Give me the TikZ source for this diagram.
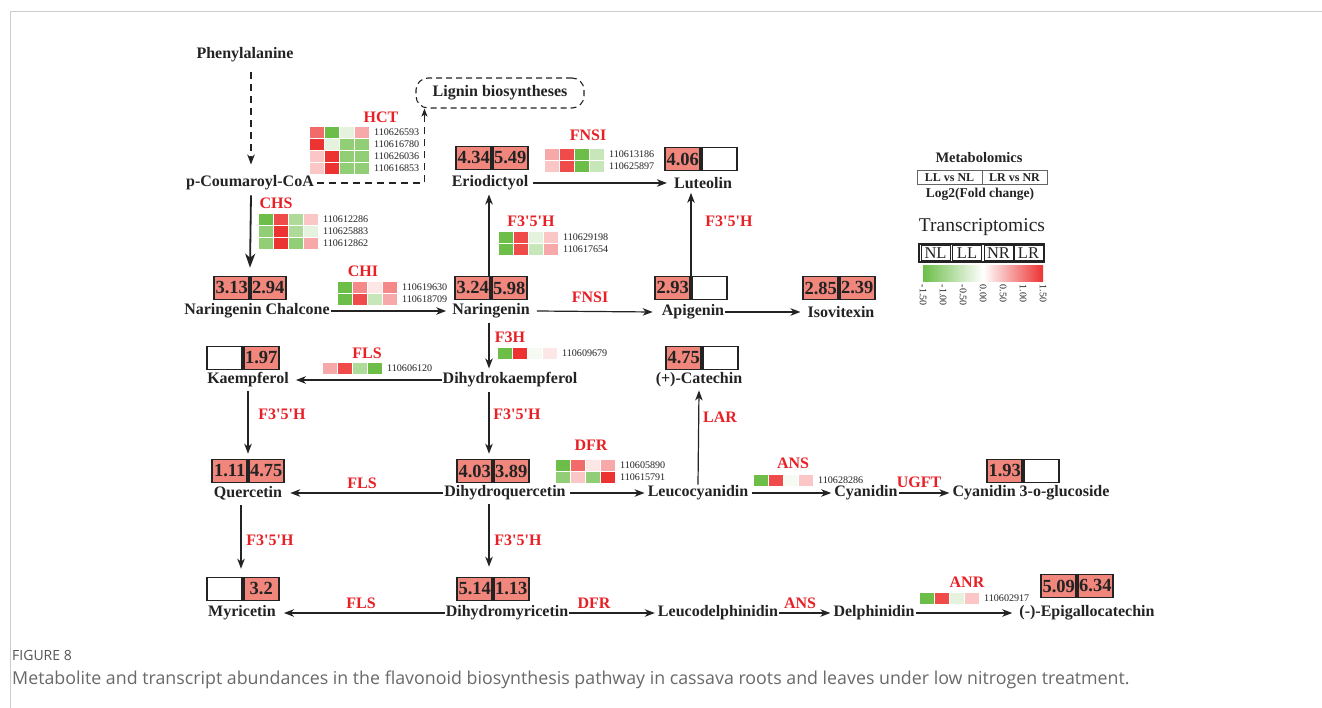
\documentclass[tikz,border=0pt]{standalone}
\usepackage{fontspec}
\setmainfont{Liberation Serif}[Ligatures=TeXOff]
\newfontfamily\capfont{Open Sans}
\usetikzlibrary{arrows.meta,calc}
\definecolor{gr}{RGB}{108,190,72}
\definecolor{rd}{RGB}{237,50,50}
\definecolor{enz}{RGB}{232,32,38}
\definecolor{salm}{RGB}{240,134,124}
\definecolor{ink}{RGB}{35,35,35}
\definecolor{capgray}{RGB}{105,105,105}
\definecolor{labgray}{RGB}{85,85,85}
\definecolor{framegray}{RGB}{205,205,205}
\colorlet{G1}{gr}
\colorlet{G2}{gr!75!white}
\colorlet{G3}{gr!55!white}
\colorlet{G4}{gr!38!white}
\colorlet{G5}{gr!18!white}
\colorlet{G6}{gr!7!white}
\colorlet{R1}{rd}
\colorlet{R2}{rd!88!white}
\colorlet{R3}{rd!72!white}
\colorlet{R4}{rd!58!white}
\colorlet{R5}{rd!42!white}
\colorlet{R6}{rd!28!white}
\colorlet{R7}{rd!12!white}
\tikzset{
  met/.style={font=\bfseries\fontsize{16}{18}\selectfont, text=ink, inner sep=1pt},
  enzl/.style={font=\bfseries\fontsize{16}{18}\selectfont, text=enz, inner sep=0pt},
  arr/.style={draw=ink, line width=1.2pt, -{Stealth[length=10pt,width=7.5pt,inset=3pt]}},
  arrbig/.style={draw=ink, line width=1.8pt, -{Stealth[length=14pt,width=10pt,inset=4pt]}},
  vcell/.style={draw=ink, line width=1.6pt, minimum width=35pt, minimum height=23pt, inner sep=0pt,
    font=\bfseries\fontsize{18.5}{20}\selectfont, text=ink},
  full/.style={vcell, fill=salm},
  empt/.style={vcell, fill=white},
  hcell/.style={draw=white, line width=0.5pt, minimum width=15pt, minimum height=12pt, inner sep=0pt, anchor=north west},
  gid/.style={font=\fontsize{10.1}{11}\selectfont, text=ink, anchor=west, inner sep=0pt},
  ligbox/.style={draw=ink, line width=1.1pt, dash pattern=on 6pt off 4pt, rounded corners=12pt,
    minimum width=168pt, minimum height=30pt, font=\bfseries\fontsize{16}{18}\selectfont, text=ink},
  lgcell/.style={draw=ink!70, line width=0.8pt, minimum width=65pt, minimum height=14pt, inner sep=0pt,
    font=\bfseries\fontsize{12}{13}\selectfont, text=ink},
  tcell/.style={draw=ink, line width=0.8pt, minimum width=29pt, minimum height=15pt, inner sep=0pt,
    font=\fontsize{16.5}{18}\selectfont, text=ink},
  tick/.style={font=\fontsize{10}{11}\selectfont, text=ink, inner sep=0.5pt, rotate=-90, anchor=west},
}
\newcommand\vpair[6]{%
  \node[#3, anchor=east] (#1L) at (#2) {#4};
  \node[#5, anchor=west] (#1R) at (#2) {#6};
}
\newcommand\hmap[3]{%
  \foreach \cols/\gid [count=\i from 0] in {#3} {
    \foreach \c [count=\j from 0] in \cols {
      \node[hcell, fill=\c] (#1-\i-\j) at ($(#2)+(15*\j,12*\i)$) {};
    }
    \node[gid] (#1-id\i) at ($(#2)+(65,12*\i+6)$) {\gid};
  }
}
\begin{document}
\begin{tikzpicture}[x=1pt,y=-1pt]
\useasboundingbox (0,0) rectangle (1322,708);
\fill[white] (0,0) rectangle (1322,708);
\draw[framegray, line width=1pt] (10,708) -- (10,12) -- (1322,12);

% metabolites
\node[met] (phe) at (245,55) {Phenylalanine};
\node[met] (pcoa) at (250,183) {p-Coumaroyl-CoA};
\node[ligbox] (lig) at (500,93) {Lignin biosyntheses};
\node[met] (nch) at (257,311) {Naringenin Chalcone};
\node[met] (nar) at (491,311) {Naringenin};
\node[met] (eri) at (490,183) {Eriodictyol};
\node[met] (lut) at (703,183) {Luteolin};
\node[met] (api) at (693,312) {Apigenin};
\node[met] (iso) at (841,312) {Isovitexin};
\node[met] (dhk) at (510,380) {Dihydrokaempferol};
\node[met] (kae) at (248,380) {Kaempferol};
\node[met] (cat) at (699,380) {(+)-Catechin};
\node[met] (que) at (248,493) {Quercetin};
\node[met] (dhq) at (505,493) {Dihydroquercetin};
\node[met] (leu) at (698,493) {Leucocyanidin};
\node[met] (cya) at (866,493) {Cyanidin};
\node[met] (cyg) at (1031,493) {Cyanidin 3-o-glucoside};
\node[met] (myr) at (242,613) {Myricetin};
\node[met] (dhm) at (507,613) {Dihydromyricetin};
\node[met] (leud) at (718,613) {Leucodelphinidin};
\node[met] (del) at (874,613) {Delphinidin};
\node[met] (epi) at (1087,613) {(-)-Epigallocatechin};

% value boxes
\vpair{vnc}{250,288}{full}{3.13}{full}{2.94}
\vpair{vnar}{491,288}{full}{3.24}{full}{5.98}
\vpair{veri}{492,158}{full}{4.34}{full}{5.49}
\vpair{vlut}{701,159}{full}{4.06}{empt}{}
\vpair{vapi}{691,288}{full}{2.93}{empt}{}
\vpair{viso}{839,288}{full}{2.85}{full}{2.39}
\vpair{vkae}{243,358}{empt}{}{full}{1.97}
\vpair{vcat}{702,358}{full}{4.75}{empt}{}
\vpair{vque}{248,471}{full}{1.11}{full}{4.75}
\vpair{vdhq}{493,471}{full}{4.03}{full}{3.89}
\vpair{vcyg}{1023,471}{full}{1.93}{empt}{}
\vpair{vmyr}{243,589}{empt}{}{full}{3.2}
\vpair{vdhm}{493,589}{full}{5.14}{full}{1.13}
\vpair{vepi}{1077,586}{full}{5.09}{full}{6.34}

% enzymes
\node[enzl] (eHCT) at (381,117) {HCT};
\node[enzl] (eCHS) at (276,203) {CHS};
\node[enzl] (eCHI) at (363,271) {CHI};
\node[enzl] (eFNS1) at (588,135) {FNSI};
\node[enzl] (eF1) at (531,221) {F3'5'H};
\node[enzl] (eF2) at (729,221) {F3'5'H};
\node[enzl] (eFNS2) at (590,297) {FNSI};
\node[enzl] (eF3H) at (510,337) {F3H};
\node[enzl] (eFLS1) at (367,353) {FLS};
\node[enzl] (eLAR) at (720,417) {LAR};
\node[enzl] (eF3) at (282,414) {F3'5'H};
\node[enzl] (eF4) at (517,414) {F3'5'H};
\node[enzl] (eFLS2) at (362,483) {FLS};
\node[enzl] (eDFR1) at (591,445) {DFR};
\node[enzl] (eANS1) at (793,463) {ANS};
\node[enzl] (eUGFT) at (919,482) {UGFT};
\node[enzl] (eF5) at (270,540) {F3'5'H};
\node[enzl] (eF6) at (518,540) {F3'5'H};
\node[enzl] (eFLS3) at (361,603) {FLS};
\node[enzl] (eDFR2) at (594,603) {DFR};
\node[enzl] (eANS2) at (800,603) {ANS};
\node[enzl] (eANR) at (967,582) {ANR};

% heatmaps
\hmap{hHCT}{309,126}{{R3,G1,G5,R5}/110626593,{R1,G5,G2,G2}/110616780,{R6,R1,G2,G2}/110626036,{R6,R1,G2,G2}/110616853}
\hmap{hCHS}{258,213}{{G1,R2,G3,R6}/110612286,{G2,R1,G3,G5}/110625883,{G2,R1,G2,R5}/110612862}
\hmap{hCHI}{337,281}{{G1,R4,R7,R4}/110619630,{G1,R2,G4,R5}/110618709}
\hmap{hF35H}{498,231}{{G1,R2,G5,R6}/110629198,{G1,R2,G4,R5}/110617654}
\hmap{hFNS}{544,148}{{R5,R2,G1,G4}/110613186,{R6,R2,G1,G4}/110625897}
\hmap{hF3H}{497,347}{{G1,R1,G6,R7}/110609679}
\hmap{hFLS}{322,362}{{R5,R2,G3,G1}/110606120}
\hmap{hDFR}{555,459}{{G1,R3,R7,R5}/110605890,{G2,R6,G2,R1}/110615791}
\hmap{hANS}{753,474}{{G1,R2,G6,R6}/110628286}
\hmap{hANR}{919,592}{{G1,R2,G5,R6}/110602917}

% connectors
\draw[arr, dash pattern=on 7pt off 5pt] ([xshift=6pt,yshift=-9pt]phe.south) -- ([xshift=1pt,yshift=10pt]pcoa.north);
\draw[arr, dash pattern=on 7pt off 5pt, -{Stealth[length=8pt,width=6pt,inset=2pt]}] ([xshift=2pt]pcoa.east) -| ([xshift=9pt]lig.south west);
\draw[arrbig] ([xshift=1pt,yshift=-4pt]pcoa.south) -- ([yshift=8pt]vncL.north east);
\draw[arr] (nch.east) -- ([xshift=-5pt]nar.west);
\draw[arr] ([xshift=6pt]nar.east) -- ([xshift=-8pt]api.west);
\draw[arr] (api.east) -- ([xshift=-6pt]iso.west);
\draw[arr] ([xshift=4pt]eri.east) -- ([xshift=-6pt]lut.west);
\draw[arr] ([xshift=-2pt]vnarL.north east) -- ([xshift=-2pt,yshift=-3pt]eri.south -| vnarL.north east);
\draw[arr] (vapiL.north east) -- ([yshift=-3pt]lut.south -| vapiL.north east);
\draw[arr] ([xshift=-2pt,yshift=-3pt]nar.south) -- ([xshift=-2pt,yshift=3pt]dhk.north -| nar.south);
\draw[arr] (dhk.west) -- ([xshift=6pt]kae.east);
\draw[arr] ([yshift=-2pt]kae.south) -- ([yshift=5pt]vqueL.north east);
\draw[arr] ([xshift=-2pt,yshift=-3pt]dhk.south -| nar.south) -- ([xshift=-4pt,yshift=5pt]vdhqL.north east);
\draw[arr] ([xshift=-2pt,yshift=-4pt]que.south -| vmyrL.north east) -- ([xshift=-2pt,yshift=8pt]vmyrL.north east);
\draw[arr] ([xshift=-4pt,yshift=-3pt]dhq.south -| vdhmL.north east) -- ([xshift=-4pt,yshift=10pt]vdhmL.north east);
\draw[arr] (leu.north) -- ([yshift=-2pt]cat.south);
\draw[arr] (dhq.west) -- ([xshift=7pt]que.east);
\draw[arr] ([xshift=3pt]dhq.east) -- ([xshift=-2pt]leu.west);
\draw[arr] ([xshift=3pt]leu.east) -- ([xshift=-2pt]cya.west);
\draw[arr] (cya.east) -- ([xshift=-2pt]cyg.west);
\draw[arr] (dhm.west) -- ([xshift=7pt]myr.east);
\draw[arr] (dhm.east) -- ([xshift=-2pt]leud.west);
\draw[arr] (leud.east) -- ([xshift=-2pt]del.west);
\draw[arr] (del.east) -- ([xshift=-6pt]epi.west);

% legend
\node[font=\bfseries\fontsize{14.5}{16}\selectfont, text=ink] (mtitle) at (979,158) {Metabolomics};
\node[lgcell] (mll) at (949.5,177.5) {LL vs NL};
\node[lgcell] (mlr) at (1014.5,177.5) {LR vs NR};
\node[font=\bfseries\fontsize{13.5}{15}\selectfont, text=ink] (mlog) at (980,194) {Log2(Fold change)};
\node[font=\fontsize{19.5}{21}\selectfont, text=ink] (ttitle) at (982,227) {Transcriptomics};
\node[draw=ink, line width=1.6pt, minimum width=125pt, minimum height=18pt, inner sep=0pt] (tbox) at (981.5,253) {};
\node[tcell] (tnl) at (935.5,253) {NL};
\node[tcell] (tll) at (967,253) {LL};
\node[tcell] (tnr) at (998.5,253) {NR};
\node[tcell] (tlr) at (1028.5,253) {LR};
\node[left color=gr, right color=rd, middle color=white, minimum width=120pt, minimum height=16pt, inner sep=0pt] (bar) at (983,274) {};
\foreach \v [count=\k from 0] in {-1.50,-1.00,-0.50,0.00,0.50,1.00,1.50}
  \node[tick] (tk\k) at (923+20*\k,284) {\v};

% caption
\node[font=\capfont\fontsize{14}{16}\selectfont, text=labgray, anchor=west, inner sep=0pt] (figlab) at (12,655) {FIGURE 8};
\node[font=\capfont\fontsize{17.8}{20}\selectfont, text=capgray, anchor=west, inner sep=0pt] (caption) at (12,680) {Metabolite and transcript abundances in the flavonoid biosynthesis pathway in cassava roots and leaves under low nitrogen treatment.};
\end{tikzpicture}
\end{document}
